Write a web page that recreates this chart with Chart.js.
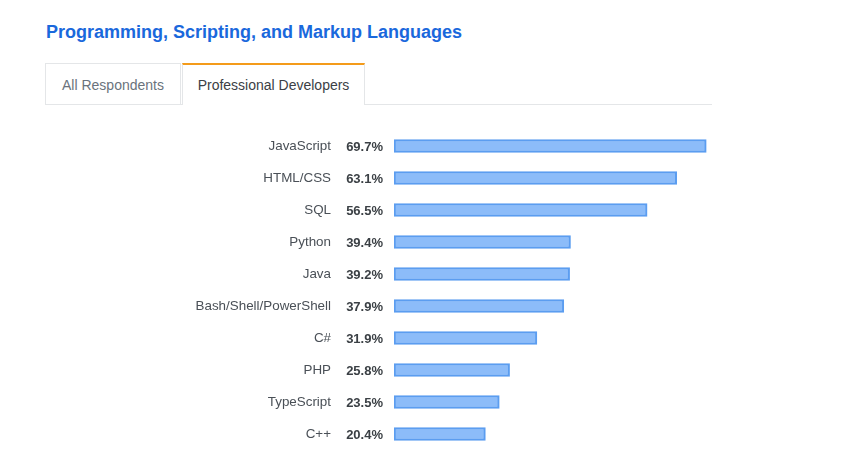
<!DOCTYPE html>
<html><head><meta charset="utf-8">
<script src="https://cdn.jsdelivr.net/npm/chart.js@4"></script>
<style>
html,body{margin:0;padding:0;background:#fff;width:867px;height:454px;overflow:hidden;font-family:"Liberation Sans",Arial,sans-serif;}
#title{position:absolute;left:46px;top:22px;font-size:18px;font-weight:bold;color:#1a68dc;white-space:nowrap;}
.tab{position:absolute;top:63px;height:41px;box-sizing:border-box;font-size:14px;line-height:42px;text-align:center;}
#tab1{left:45px;width:136px;border:1px solid #e4e6e8;border-bottom:none;color:#6a737c;background:#fff;}
#tab2{left:182px;width:183px;border:1px solid #e4e6e8;border-top:2px solid #f49b1a;border-bottom:none;color:#3b4045;line-height:40px;height:42px;background:#fff;}
#line{position:absolute;left:45px;top:104px;width:667px;height:1px;background:#e4e6e8;}
#wrap{position:absolute;left:0;top:120px;width:867px;height:334px;}
</style></head><body>
<div id="title">Programming, Scripting, and Markup Languages</div>
<div id="line"></div>
<div class="tab" id="tab1">All Respondents</div>
<div class="tab" id="tab2">Professional Developers</div>
<div id="wrap"><canvas id="c" width="867" height="334"></canvas></div>
<script>
const categories = ["JavaScript","HTML/CSS","SQL","Python","Java","Bash/Shell/PowerShell","C#","PHP","TypeScript","C++"];
const values = [69.7,63.1,56.5,39.4,39.2,37.9,31.9,25.8,23.5,20.4];

const valueLabels = {
  id:'valueLabels',
  afterDatasetsDraw(chart){
    const ctx = chart.ctx, y = chart.scales.y;
    ctx.save();
    ctx.font = 'bold 13px "Liberation Sans", Arial, sans-serif';
    ctx.fillStyle = '#3b4045';
    ctx.textAlign = 'right';
    ctx.textBaseline = 'middle';
    values.forEach((v,i)=>{
      ctx.fillText(v.toFixed(1)+'%', 383, y.getPixelForValue(i)+1);
    });
    ctx.restore();
  }
};

new Chart(document.getElementById('c'),{
  type:'bar',
  data:{labels:categories,datasets:[{data:values,backgroundColor:'#8cbcf9',borderColor:'#5b9df0',borderWidth:2,borderSkipped:false,barThickness:13}]},
  options:{
    indexAxis:'y',responsive:false,animation:false,
    layout:{padding:{top:10,bottom:4,right:25,left:0}},
    plugins:{legend:{display:false},tooltip:{enabled:false}},
    scales:{
      x:{display:false,min:0,max:100},
      y:{
        afterFit(s){s.width=394;s.paddingTop=0;s.paddingBottom=0;},
        grid:{display:false,drawTicks:false},
        border:{display:false},
        ticks:{padding:63,color:'#4a5057',font:{family:'"Liberation Sans", Arial, sans-serif',size:13.4}}
      }
    }
  },
  plugins:[valueLabels]
});
</script>
</body></html>
